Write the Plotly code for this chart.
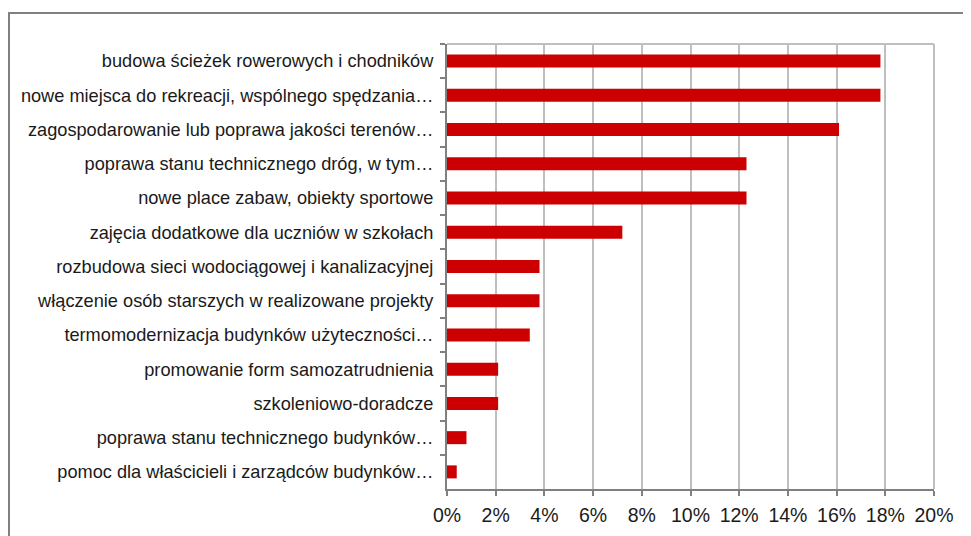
import plotly.graph_objects as go

categories = [
    "budowa ścieżek rowerowych i chodników",
    "nowe miejsca do rekreacji, wspólnego spędzania…",
    "zagospodarowanie lub poprawa jakości terenów…",
    "poprawa stanu technicznego dróg, w tym…",
    "nowe place zabaw, obiekty sportowe",
    "zajęcia dodatkowe dla uczniów w szkołach",
    "rozbudowa sieci wodociągowej i kanalizacyjnej",
    "włączenie osób starszych w realizowane projekty",
    "termomodernizacja budynków użyteczności…",
    "promowanie form samozatrudnienia",
    "szkoleniowo-doradcze",
    "poprawa stanu technicznego budynków…",
    "pomoc dla właścicieli i zarządców budynków…",
]
values = [0.178, 0.178, 0.161, 0.123, 0.123, 0.072, 0.038, 0.038, 0.034, 0.021, 0.021, 0.008, 0.004]
x_ticks = [0, 0.02, 0.04, 0.06, 0.08, 0.10, 0.12, 0.14, 0.16, 0.18, 0.20]
x_tick_labels = ["0%", "2%", "4%", "6%", "8%", "10%", "12%", "14%", "16%", "18%", "20%"]

# page body adds an 8px offset; margins below compensate
L, R, T, B = 439, 45, 36, 55
PW = 971 - L - R
PH = 536 - T - B

fig = go.Figure(go.Bar(
    x=values, y=categories, orientation="h",
    marker=dict(color="#CC0000", line=dict(width=0)),
))

fig.update_layout(
    width=971, height=536,
    margin=dict(l=L, r=R, t=T, b=B, autoexpand=False),
    plot_bgcolor="white", paper_bgcolor="white",
    bargap=0.62,
    showlegend=False,
    font=dict(family="Liberation Sans, Arial, sans-serif", color="#1a1a1a"),
    shapes=[dict(type="rect", xref="paper", yref="paper",
                 x0=-(L - 1) / PW, x1=1 + (R + 40) / PW,
                 y0=-(B + 40) / PH, y1=1 + (T - 5) / PH,
                 line=dict(color="#808080", width=2), layer="below")],
)
fig.update_xaxes(
    range=[0, 0.20], tickvals=x_ticks, ticktext=x_tick_labels,
    showgrid=True, gridcolor="#BFBFBF", gridwidth=2,
    showline=True, linecolor="#808080", linewidth=2, mirror=False,
    ticks="outside", ticklen=5, tickcolor="#808080", tickwidth=2,
    ticklabelstandoff=3,
    tickfont=dict(size=19.5, color="#1a1a1a"), zeroline=False,
)
fig.update_yaxes(
    autorange="reversed", type="category",
    showline=True, linecolor="#808080", linewidth=2,
    ticks="outside", ticklen=5, tickcolor="#808080", tickwidth=2,
    tickson="boundaries", showgrid=False,
    ticklabelstandoff=8,
    tickfont=dict(size=18.2, color="#1a1a1a"),
)
fig.add_shape(type="line", xref="paper", yref="paper", x0=0, x1=1, y0=1, y1=1,
              line=dict(color="#BFBFBF", width=2))
fig.add_shape(type="line", xref="paper", yref="paper", x0=1, x1=1, y0=0, y1=1,
              line=dict(color="#BFBFBF", width=2))

fig.write_html("out.html")
